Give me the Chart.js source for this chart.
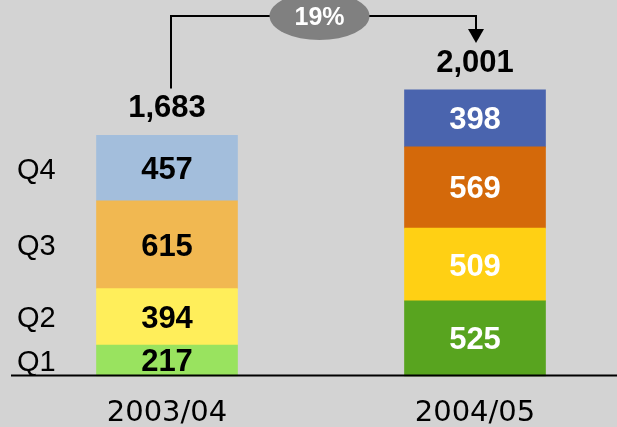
<!DOCTYPE html>
<html>
<head>
<meta charset="utf-8">
<script src="https://cdn.jsdelivr.net/npm/chart.js@4"></script>
<style>
  html, body { margin: 0; padding: 0; background: #d3d3d3; }
  #wrap { width: 617px; height: 427px; }
</style>
</head>
<body>
<div id="wrap"><canvas id="salesChart" width="617" height="427"></canvas></div>
<script>
  // data
  const years = ["2003/04", "2004/05"];
  const quarters = ["Q1", "Q2", "Q3", "Q4"];
  const q1 = [217, 525];
  const q2 = [394, 509];
  const q3 = [615, 569];
  const q4 = [457, 398];
  const growthLabel = "19%";

  // colours per quarter, one per year
  const q1Colors = ["#99e35f", "#58a41f"];
  const q2Colors = ["#ffee5a", "#ffd014"];
  const q3Colors = ["#f1b851", "#d4690a"];
  const q4Colors = ["#a3bedc", "#4a64ae"];
  const labelColors = ["#000000", "#ffffff"];

  const totals = years.map((y, i) => q1[i] + q2[i] + q3[i] + q4[i]);

  function fmt(n) {
    return n.toLocaleString("en-US");
  }

  const labelsPlugin = {
    id: "labels",
    afterDatasetsDraw(chart) {
      const ctx = chart.ctx;
      const area = chart.chartArea;
      ctx.save();

      // baseline
      ctx.strokeStyle = "#000";
      ctx.lineWidth = 2;
      ctx.beginPath();
      ctx.moveTo(11, area.bottom - 0.5);
      ctx.lineTo(chart.width, area.bottom - 0.5);
      ctx.stroke();

      // values inside the segments
      ctx.textAlign = "center";
      ctx.textBaseline = "alphabetic";
      ctx.font = "bold 31px 'Liberation Sans', Arial, sans-serif";
      chart.data.datasets.forEach((ds, d) => {
        const meta = chart.getDatasetMeta(d);
        meta.data.forEach((bar, i) => {
          const mid = (bar.y + bar.base) / 2;
          ctx.fillStyle = labelColors[i];
          ctx.fillText(ds.data[i], bar.x, mid + 11);
        });
      });

      // quarter names next to the first bar
      ctx.textAlign = "left";
      ctx.fillStyle = "#000";
      ctx.font = "29px 'Liberation Sans', Arial, sans-serif";
      chart.data.datasets.forEach((ds, d) => {
        const bar = chart.getDatasetMeta(d).data[0];
        const mid = (bar.y + bar.base) / 2;
        ctx.fillText(ds.label, 17, mid + 10.5);
      });

      // totals above bars
      const tops = chart.getDatasetMeta(chart.data.datasets.length - 1).data;
      ctx.textAlign = "center";
      ctx.font = "bold 31px 'Liberation Sans', Arial, sans-serif";
      tops.forEach((bar, i) => {
        ctx.fillText(fmt(totals[i]), bar.x, bar.y - 18);
      });

      // category labels
      ctx.font = "29px 'DejaVu Sans', sans-serif";
      tops.forEach((bar, i) => {
        ctx.fillText(years[i], bar.x, area.bottom + 45);
      });

      // growth connector
      const x1 = tops[0].x + 4;
      const x2 = tops[1].x + 1;
      const yTop = 16;
      ctx.lineWidth = 2;
      ctx.strokeStyle = "#000";
      ctx.beginPath();
      ctx.moveTo(x1, tops[0].y - 47);
      ctx.lineTo(x1, yTop);
      ctx.lineTo(x2, yTop);
      ctx.lineTo(x2, 31);
      ctx.stroke();
      ctx.fillStyle = "#000";
      ctx.beginPath();
      ctx.moveTo(x2 - 8, 29);
      ctx.lineTo(x2 + 8, 29);
      ctx.lineTo(x2, 43);
      ctx.closePath();
      ctx.fill();

      const ex = (x1 + x2) / 2 - 4;
      ctx.fillStyle = "#808080";
      ctx.beginPath();
      ctx.ellipse(ex, yTop, 50, 24, 0, 0, Math.PI * 2);
      ctx.fill();
      ctx.fillStyle = "#fff";
      ctx.font = "bold 25px 'Liberation Sans', Arial, sans-serif";
      ctx.fillText(growthLabel, ex, yTop + 9);

      ctx.restore();
    }
  };

  const ctx = document.getElementById("salesChart").getContext("2d");
  new Chart(ctx, {
    type: "bar",
    data: {
      labels: years,
      datasets: [
        { label: quarters[0], data: q1, backgroundColor: q1Colors, clip: false },
        { label: quarters[1], data: q2, backgroundColor: q2Colors, clip: false },
        { label: quarters[2], data: q3, backgroundColor: q3Colors, clip: false },
        { label: quarters[3], data: q4, backgroundColor: q4Colors, clip: false }
      ]
    },
    options: {
      responsive: false,
      animation: false,
      devicePixelRatio: 1,
      barThickness: 141,
      layout: {
        padding: { left: 167, right: 142, top: 0, bottom: 51 }
      },
      scales: {
        x: { stacked: true, display: false, offset: false },
        y: { stacked: true, display: false, min: 0, max: 2630 }
      },
      plugins: {
        legend: { display: false },
        tooltip: { enabled: false }
      }
    },
    plugins: [labelsPlugin]
  });
</script>
</body>
</html>
